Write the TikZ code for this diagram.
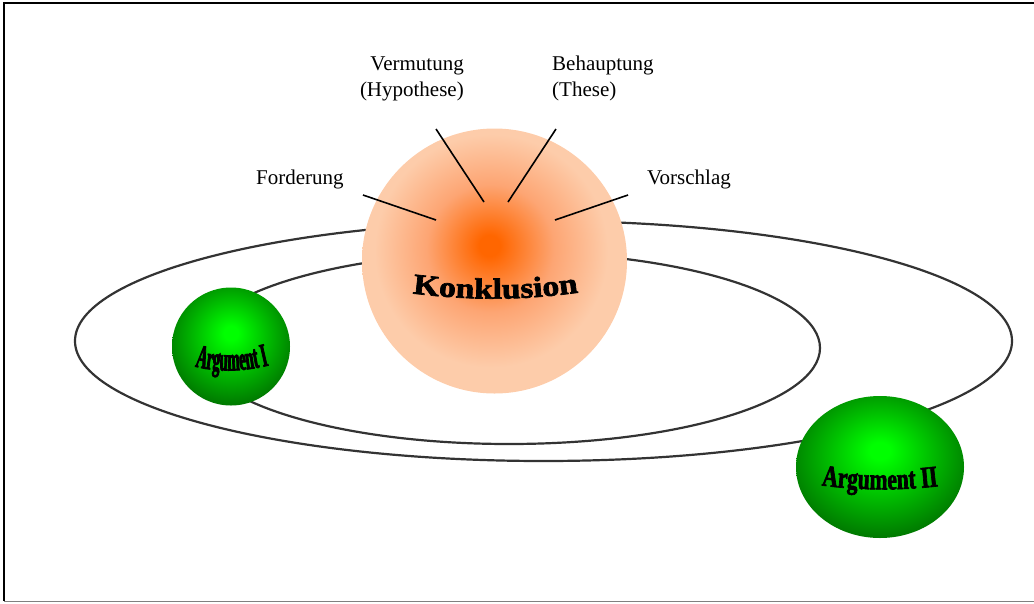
\documentclass[tikz,border=0pt]{standalone}
\usepackage{fontspec}
\setmainfont{Liberation Serif}
% heavy lettering for the balls
\newfontfamily\konkfont[FakeStretch=1.16,FakeBold=2.4]{Liberation Serif}
\newfontfamily\argIfont[FakeStretch=0.45,FakeBold=2.4]{Liberation Serif}
\newfontfamily\argIIfont[FakeStretch=0.72,FakeBold=2.2]{Liberation Serif}
\usetikzlibrary{shapes.geometric,decorations.text}

\definecolor{konkcore}{RGB}{255,102,0}
\definecolor{konkmid}{RGB}{253,165,115}
\definecolor{konkrim}{RGB}{253,204,170}
\definecolor{gcore}{RGB}{0,255,0}
\definecolor{gmid}{RGB}{0,190,0}
\definecolor{grim}{RGB}{0,100,0}
\definecolor{orbit}{RGB}{51,51,51}

\pgfdeclareradialshading{konkball}{\pgfpoint{-1bp}{3bp}}{%
  color(0bp)=(konkcore); color(2bp)=(konkcore); color(12bp)=(konkmid);
  color(22bp)=(konkrim); color(60bp)=(konkrim)}
\pgfdeclareradialshading{argball}{\pgfpoint{0bp}{6bp}}{%
  color(0bp)=(gcore); color(3bp)=(gcore); color(15bp)=(gmid);
  color(32bp)=(grim); color(60bp)=(grim)}

\tikzset{
  orbitline/.style={draw=orbit, line width=2.2pt},
  ray/.style={draw=black, line width=1.6pt},
  lbl/.style={font=\fontsize{21}{26}\selectfont, inner sep=0pt},
}

\begin{document}
\begin{tikzpicture}[x=1pt,y=-1pt]
\useasboundingbox (0,0) rectangle (1034,603);

% frame
\draw[line width=2pt] (1034,3) -- (4,3) -- (4,601);
\draw[gray, line width=1.5pt] (4,601.5) -- (1034,601.5);

% orbits
\draw[orbitline] (543.5,341) ellipse (468.5 and 120);
\draw[orbitline] (509,348) ellipse (311 and 96);

% central ball
\node[circle, inner sep=0pt, minimum size=265pt, shading=konkball] (konk) at (494.5,261) {};
\path[decorate, decoration={text along path, text align=center,
  text format delimiters={|}{|},
  text={|\konkfont\bfseries\fontsize{29}{29}\selectfont|Konklusion}}]
  (402,292) .. controls (468,301) and (524,301) .. (589,291);

% arguments
\node[circle, inner sep=0pt, minimum size=118pt, shading=argball] (arg1) at (231,346.5) {};
\path[decorate, decoration={text along path, text align=center,
  text format delimiters={|}{|},
  text={|\argIfont\bfseries\fontsize{33}{33}\selectfont|Argument I}}]
  (190,365) .. controls (215,373) and (245,372) .. (274,364);

\node[ellipse, inner sep=0pt, minimum width=168pt, minimum height=142pt, shading=argball] (arg2) at (880,467) {};
\path[decorate, decoration={text along path, text align=center,
  text format delimiters={|}{|},
  text={|\argIIfont\bfseries\fontsize{30}{30}\selectfont|Argument II}}]
  (813,484) .. controls (855,491) and (905,491) .. (947,485);

% labels
\node[lbl, anchor=base west] (ford) at (256,184) {Forderung};
\node[lbl, anchor=base west] (vors) at (647,184) {Vorschlag};
\node[lbl, anchor=base east, align=right] (verm) at (464,96) {Vermutung\\(Hypothese)};
\node[lbl, anchor=base west, align=left] (beh) at (552,96) {Behauptung\\(These)};

% rays from the labels towards the centre
\coordinate (fA) at (363,195); \coordinate (fB) at (436,220);
\coordinate (vA) at (436,129); \coordinate (vB) at (484,202);
\coordinate (bA) at (556,129); \coordinate (bB) at (508,202);
\coordinate (sA) at (628,195); \coordinate (sB) at (555,220);
\draw[ray] (fA) -- (fB);
\draw[ray] (vA) -- (vB);
\draw[ray] (bA) -- (bB);
\draw[ray] (sA) -- (sB);
\end{tikzpicture}
\end{document}
